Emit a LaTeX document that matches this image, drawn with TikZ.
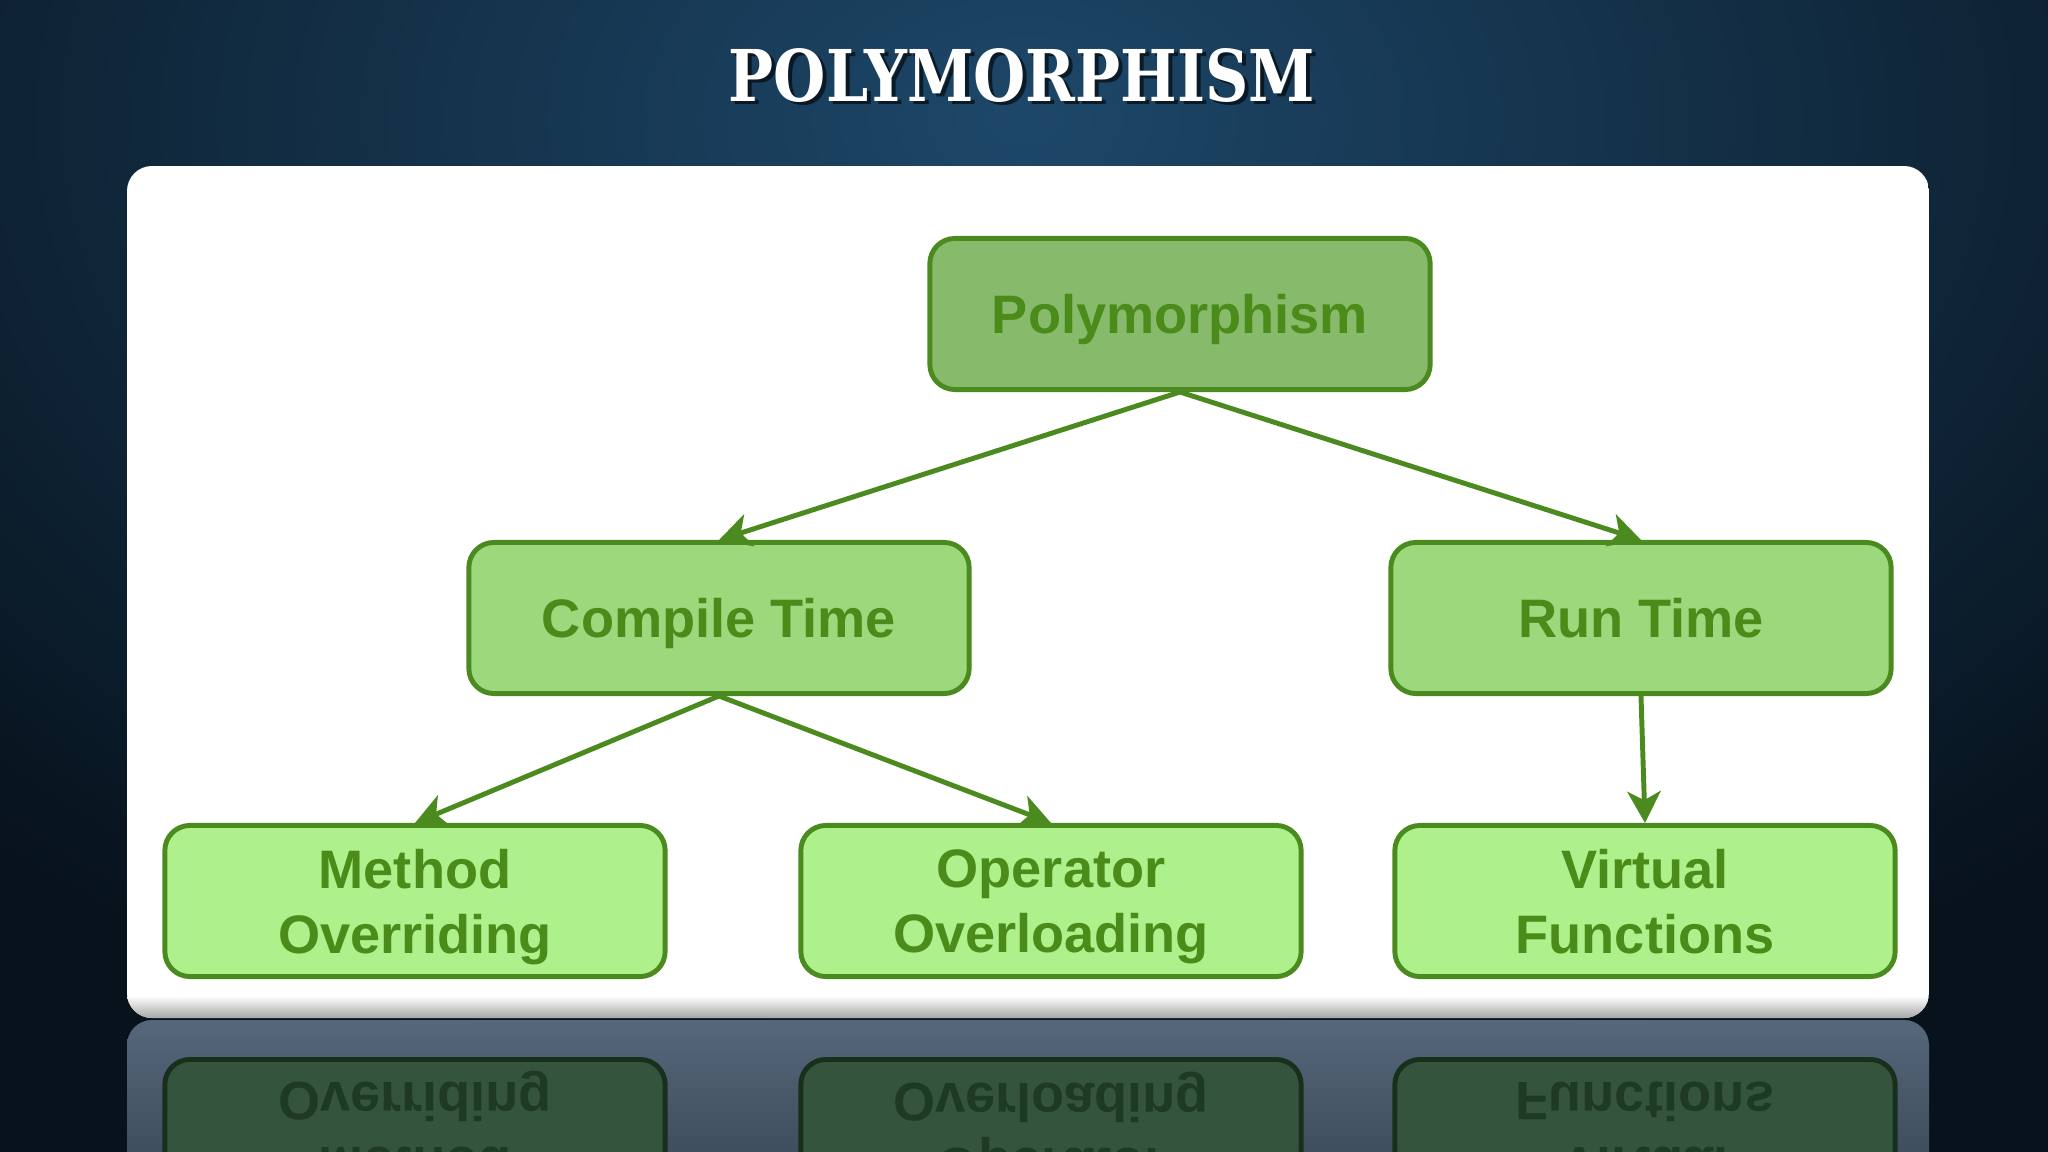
\documentclass[tikz,border=0pt]{standalone}
\usepackage{fontspec}
\setmainfont{Liberation Sans}
\newfontfamily\titlefont{DejaVu Serif}
\usetikzlibrary{arrows.meta}

\definecolor{bgin}{HTML}{1D4769}
\definecolor{bgout}{HTML}{07121C}
\definecolor{edge}{HTML}{4B8A1F}
\definecolor{txt}{HTML}{4A8B1A}
\definecolor{topfill}{HTML}{87BA6B}
\definecolor{midfill}{HTML}{9CD87C}
\definecolor{lowfill}{HTML}{AEF08B}
\definecolor{reflA}{HTML}{56677A}
\definecolor{reflB}{HTML}{26333F}
\definecolor{mirror}{HTML}{34543D}
\definecolor{mirroredge}{HTML}{18301B}
\definecolor{mirrortxt}{HTML}{1F3A24}

\tikzset{
  box/.style={draw=edge, line width=1.4pt, rounded corners=0.25cm,
    minimum width=5cm, minimum height=1.51cm, align=center, text=txt,
    text depth=0pt, font=\fontsize{15.4}{18.5}\selectfont\bfseries},
  mirrorbox/.style={box, fill=mirror, draw=mirroredge, text=mirrortxt, yscale=-1},
  arr/.style={draw=edge, line width=1.4pt,
    -{Stealth[length=9pt,width=9.5pt,inset=2.5pt]}},
  heading/.style={font=\titlefont\bfseries\fontsize{20.3}{24}\selectfont, xscale=0.84}
}

\begin{document}
\begin{tikzpicture}[x=0.01cm, y=-0.01cm]
\clip (0,0) rectangle (2048,1152);
\useasboundingbox (0,0) rectangle (2048,1152);

% slide background
\fill[bgout] (0,0) rectangle (2048,1152);
\shade[inner color=bgin, outer color=bgout] (1024,120) ellipse (1500 and 1000);

\node[heading, text=black, opacity=0.6] (titleshadow) at (1026,79) {POLYMORPHISM};
\node[heading, text=white] (title) at (1022,76) {POLYMORPHISM};

% white panel and its reflection
\shade[top color=reflA, bottom color=reflB, rounded corners=0.25cm]
  (127,1020) rectangle (1929,1300);
\begin{scope}
  \clip[rounded corners=0.25cm] (127,166) rectangle (1929,1018);
  \fill[white] (127,166) rectangle (1929,1018);
  \shade[top color=white, bottom color=black!35] (127,996) rectangle (1929,1018);
\end{scope}

\node[mirrorbox] (mover) at (415,1135) {Method\\Overriding};
\node[mirrorbox] (mopov) at (1051,1135) {Operator\\Overloading};
\node[mirrorbox] (mvirt) at (1645,1135) {Virtual\\Functions};

% tree
\node[box, fill=topfill] (poly) at (1180,314) {Polymorphism};
\node[box, fill=midfill] (compile) at (719,618) {Compile Time};
\node[box, fill=midfill] (run) at (1641,618) {Run Time};
\node[box, fill=lowfill] (over) at (415,901) {Method\\Overriding};
\node[box, fill=lowfill] (opov) at (1051,901) {Operator\\Overloading};
\node[box, fill=lowfill] (virt) at (1645,901) {Virtual\\Functions};

\draw[arr] (poly.south) -- (compile.north);
\draw[arr] (poly.south) -- (run.north);
\draw[arr] (compile.south) -- (over.north);
\draw[arr] (compile.south) -- (opov.north);
\draw[arr] (run.south) -- (virt.north);
\end{tikzpicture}
\end{document}
